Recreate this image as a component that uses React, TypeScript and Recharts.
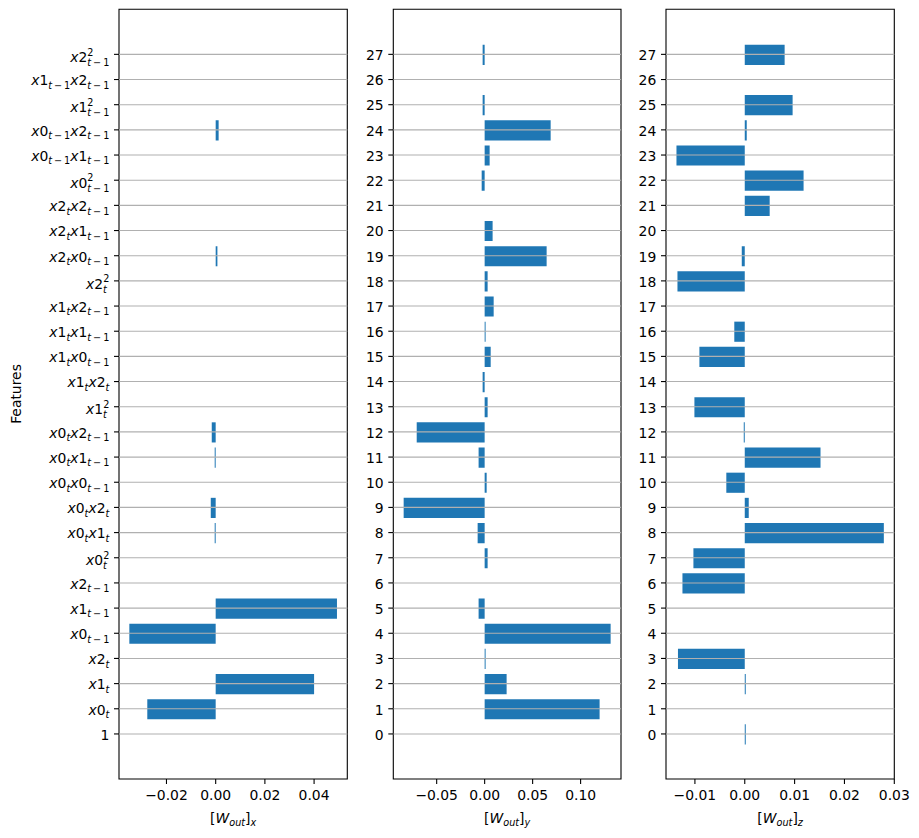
import React from 'react';
import { BarChart, Bar, XAxis, YAxis, ReferenceLine, ReferenceArea, Label } from 'recharts';

const FONT = 'DejaVu Sans, sans-serif';
const FS = 13.9;
const SUB_FS = 9.7;
const BLUE = '#1f77b4';
const GRID = '#b0b0b0';
const HEIGHT = 838;

// Feature names in readout order (constant term first)
const featureLabels = [
  '1', 'x0_t', 'x1_t', 'x2_t', 'x0_{t-1}', 'x1_{t-1}', 'x2_{t-1}',
  'x0_t^2', 'x0_tx1_t', 'x0_tx2_t', 'x0_tx0_{t-1}', 'x0_tx1_{t-1}', 'x0_tx2_{t-1}',
  'x1_t^2', 'x1_tx2_t', 'x1_tx0_{t-1}', 'x1_tx1_{t-1}', 'x1_tx2_{t-1}',
  'x2_t^2', 'x2_tx0_{t-1}', 'x2_tx1_{t-1}', 'x2_tx2_{t-1}',
  'x0_{t-1}^2', 'x0_{t-1}x1_{t-1}', 'x0_{t-1}x2_{t-1}',
  'x1_{t-1}^2', 'x1_{t-1}x2_{t-1}', 'x2_{t-1}^2',
];
const featureIdx = featureLabels.map((_, i) => i);

// Output weights, one row per feature
const wOutX = [
  0, -0.0278, 0.04, 0, -0.0351, 0.0493, 0, 0, -0.0004, -0.002, 0, -0.0004, -0.0016, 0,
  0, 0, 0, 0, 0, 0.0007, 0, 0, 0, 0, 0.0012, 0, 0, 0,
];
const wOutY = [
  0, 0.1198, 0.0229, 0.001, 0.1313, -0.0063, 0, 0.0031, -0.0073, -0.0844, 0.0021, -0.0063, -0.0708, 0.0031,
  -0.0021, 0.0063, 0.001, 0.0094, 0.0031, 0.0646, 0.0083, 0, -0.0031, 0.0052, 0.0688, -0.0021, 0, -0.0021,
];
const wOutZ = [
  0.0002, 0, 0.0002, -0.0134, 0, 0, -0.0125, -0.0103, 0.0279, 0.0008, -0.0037, 0.0152, -0.0002, -0.0101,
  0, -0.0091, -0.0021, 0, -0.0135, -0.0006, 0, 0.005, 0.0118, -0.0137, 0.0004, 0.0096, 0, 0.008,
];

const ticksX = [-0.02, 0, 0.02, 0.04];
const ticksY = [-0.05, 0, 0.05, 0.1];
const ticksZ = [-0.01, 0, 0.01, 0.02, 0.03];

const idxDomain = [-1.79, 28.79];

const panels = [
  { sub: 'x', weights: wOutX, ticks: ticksX, domain: [-0.0393, 0.0535], named: true, left: 0, width: 357, axisWidth: 119, right: 9.7 },
  { sub: 'y', weights: wOutY, ticks: ticksY, domain: [-0.0952, 0.1421], named: false, left: 357, width: 270, axisWidth: 36.3, right: 6 },
  { sub: 'z', weights: wOutZ, ticks: ticksZ, domain: [-0.0158, 0.03], named: false, left: 627, width: 292, axisWidth: 39, right: 24.7 },
];

const fmt = (v: number) => (v < 0 ? '\u2212' : '') + Math.abs(v).toFixed(2);

const termPattern = /x(\d)_(\{t-1\}|t)(\^2)?/g;

// y tick label with math-style subscripts / superscripts
function FeatureTick({ x, y, payload }: any) {
  const label = featureLabels[payload.value] ?? '';
  const terms = [...label.matchAll(termPattern)];
  if (terms.length === 0) {
    return (
      <text x={x} y={y + 5.8} textAnchor="end" fontFamily={FONT} fontSize={FS} fill="#000">{label}</text>
    );
  }
  const squared = terms.some((t) => t[3]);
  let base = 0;
  const shiftTo = (v: number) => {
    const d = v - base;
    base = v;
    return d;
  };
  const nodes: React.ReactNode[] = [];
  terms.forEach((t, k) => {
    const [, digit, sub, sq] = t;
    const lag = sub !== 't';
    nodes.push(<tspan key={`x${k}`} fontStyle="italic" dy={shiftTo(0)}>x</tspan>);
    nodes.push(<tspan key={`d${k}`}>{digit}</tspan>);
    const subText = lag
      ? [<tspan key="t" fontStyle="italic">t</tspan>, '\u2009\u2212\u20091']
      : <tspan fontStyle="italic">t</tspan>;
    if (!sq) {
      nodes.push(<tspan key={`s${k}`} fontSize={SUB_FS} dy={shiftTo(3.5)}>{subText}</tspan>);
    } else if (!lag) {
      nodes.push(<tspan key={`s${k}`} fontSize={SUB_FS} dy={shiftTo(4)}>{subText}</tspan>);
      nodes.push(<tspan key={`p${k}`} fontSize={SUB_FS} dx={-3.8} dy={shiftTo(-6.5)}>2</tspan>);
    } else {
      nodes.push(<tspan key={`p${k}`} fontSize={SUB_FS} dy={shiftTo(-6.5)}>2</tspan>);
      nodes.push(<tspan key={`s${k}`} fontSize={SUB_FS} dx={-6.2} dy={shiftTo(4)}>{subText}</tspan>);
    }
  });
  return (
    <text x={x} y={y + (squared ? 7.7 : 5.8)} textAnchor="end" fontFamily={FONT} fontSize={FS} fill="#000">
      {nodes}
    </text>
  );
}

function IndexTick({ x, y, payload }: any) {
  return (
    <text x={x} y={y + 5.8} textAnchor="end" fontFamily={FONT} fontSize={FS} fill="#000">
      {payload.value}
    </text>
  );
}

function AxisTitle({ cx, sub }: any) {
  return (
    <text x={cx} y={822.5} textAnchor="middle" fontFamily={FONT} fontSize={FS} fill="#000">
      [<tspan fontStyle="italic">W</tspan>
      <tspan fontStyle="italic" fontSize={SUB_FS} dy={3}>out</tspan>
      <tspan dy={-3}>]</tspan>
      <tspan fontStyle="italic" fontSize={SUB_FS} dy={3}>{sub}</tspan>
    </text>
  );
}

function FeaturesTitle() {
  return (
    <text x={21} y={394} transform="rotate(-90, 21, 394)" textAnchor="middle" fontFamily={FONT} fontSize={FS} fill="#000">
      Features
    </text>
  );
}

function WeightPanel({ panel }: any) {
  const rows = featureIdx.map((i) => ({ idx: i, w: panel.weights[i] }));
  const plotWidth = panel.width - panel.axisWidth - panel.right;
  const tickLine = { stroke: '#000', strokeWidth: 1.1 };
  return (
    <div style={{ position: 'absolute', left: panel.left, top: 0 }}>
      <BarChart
        width={panel.width}
        height={HEIGHT}
        data={rows}
        layout="vertical"
        margin={{ top: 9.3, right: panel.right, bottom: 29, left: 0 }}
      >
        <XAxis
          type="number"
          domain={panel.domain}
          allowDataOverflow
          ticks={panel.ticks}
          interval={0}
          tickFormatter={fmt}
          height={30}
          tickSize={5}
          tickMargin={6.5}
          axisLine={false}
          tickLine={tickLine}
          tick={{ fill: '#000', fontSize: FS, fontFamily: FONT }}
        >
          <Label content={<AxisTitle cx={panel.axisWidth + plotWidth / 2} sub={panel.sub} />} />
        </XAxis>
        <YAxis
          type="number"
          dataKey="idx"
          domain={idxDomain}
          allowDataOverflow
          reversed
          ticks={featureIdx}
          interval={0}
          width={panel.axisWidth}
          tickSize={5}
          tickMargin={4.7}
          axisLine={false}
          tickLine={tickLine}
          tick={panel.named ? <FeatureTick /> : <IndexTick />}
        >
          {panel.named && <Label content={<FeaturesTitle />} />}
        </YAxis>
        <Bar dataKey="w" fill={BLUE} barSize={20.15} isAnimationActive={false} />
        {featureIdx.map((i) => (
          <ReferenceLine key={i} y={i} stroke={GRID} strokeWidth={1.1} />
        ))}
        <ReferenceArea
          x1={panel.domain[0]}
          x2={panel.domain[1]}
          y1={idxDomain[0]}
          y2={idxDomain[1]}
          fill="none"
          fillOpacity={0}
          stroke="#000"
          strokeWidth={1.1}
          strokeOpacity={1}
        />
      </BarChart>
    </div>
  );
}

export default function App() {
  return (
    <div style={{ position: 'absolute', left: 0, top: 0, width: 919, height: HEIGHT, background: '#fff' }}>
      {panels.map((p) => (
        <WeightPanel key={p.sub} panel={p} />
      ))}
    </div>
  );
}
